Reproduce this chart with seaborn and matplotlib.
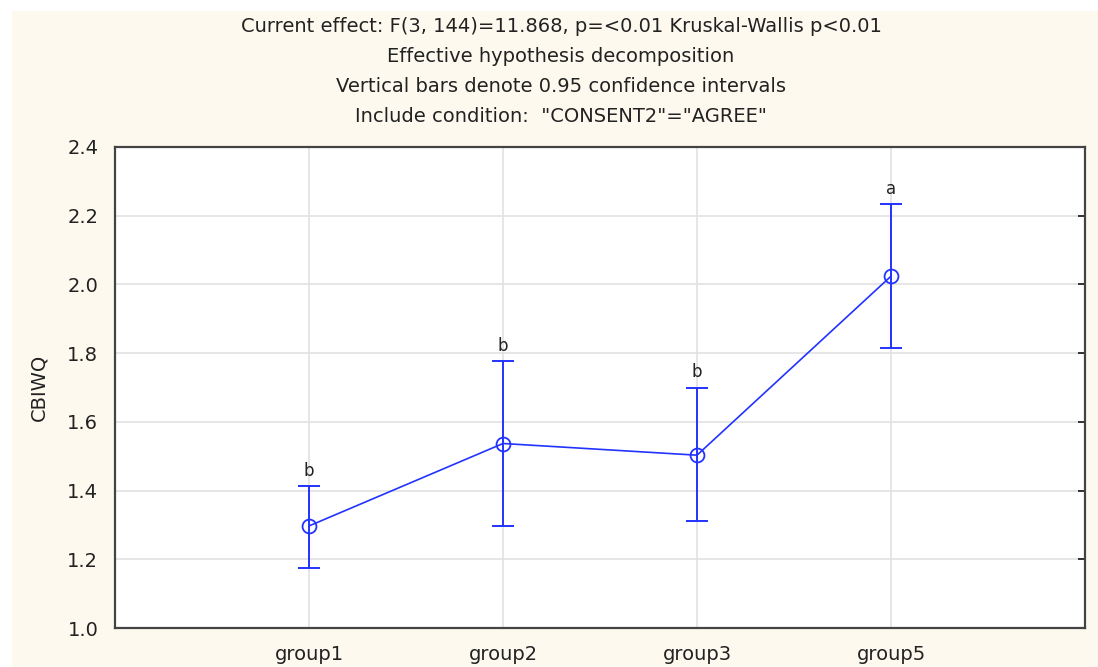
import matplotlib
matplotlib.use("Agg")
import matplotlib.pyplot as plt
import seaborn as sns
import numpy as np
from matplotlib.patches import Rectangle

groups = ["group1", "group2", "group3", "group5"]
means = [1.297, 1.537, 1.503, 2.024]
ci_low = [1.175, 1.298, 1.310, 1.815]
ci_high = [1.414, 1.777, 1.700, 2.234]
letters = ["b", "b", "b", "a"]
title_lines = [
    "Current effect: F(3, 144)=11.868, p=<0.01 Kruskal-Wallis p<0.01",
    "Effective hypothesis decomposition",
    "Vertical bars denote 0.95 confidence intervals",
    'Include condition:  "CONSENT2"="AGREE"',
]
yticks = [1.0, 1.2, 1.4, 1.6, 1.8, 2.0, 2.2, 2.4]

sns.set_theme(style="white")
plt.rcParams['font.family'] = ['DejaVu Sans']

fig = plt.figure(figsize=(10.98, 6.67), dpi=100, facecolor="white")
fig.patches.append(Rectangle((12/1098, 0), 1, (667-11)/667, transform=fig.transFigure,
                             facecolor="#FDF9EE", edgecolor="none", zorder=-10))
ax = fig.add_axes([115/1098, (667-628)/667, (1085-115)/1098, (628-147)/667])
ax.set_facecolor("white")

blue = "#2233FF"
pos = np.arange(len(groups))
m = np.array(means)
lo = np.array(ci_low)
hi = np.array(ci_high)

sns.lineplot(x=pos, y=m, ax=ax, color=blue, linewidth=1.2, marker="o",
             markersize=10, markerfacecolor="none", markeredgecolor=blue,
             markeredgewidth=1.3, zorder=5)
ax.errorbar(pos, m, yerr=[m - lo, hi - m], fmt="none", ecolor=blue,
            elinewidth=1.4, capsize=8, capthick=1.4, zorder=4)
for x, h, t in zip(pos, hi, letters):
    ax.text(x, h + 0.018, t, ha="center", va="bottom", fontsize=12, color="#222222")

ax.set_xlim(-1, 4)
ax.set_ylim(1.0, 2.4)
ax.set_xticks(pos)
ax.set_xticklabels(groups)
ax.set_yticks(yticks)
ax.set_yticklabels([f"{v:.1f}" for v in yticks])
ax.grid(True, color="#E2E2E2", linewidth=1.2)
ax.set_axisbelow(True)
for s in ax.spines.values():
    s.set_color("#444444")
    s.set_linewidth(1.6)
ax.tick_params(axis="x", direction="in", length=5, width=1.4, color="#333333",
               labelsize=14, pad=12, labelcolor="#222222")
ax.tick_params(axis="y", left=False, right=True, direction="in", length=5, width=1.4,
               color="#333333", labelsize=14, pad=12, labelcolor="#222222")
ax.set_xlabel("")
ax.set_ylabel("CBIWQ", fontsize=14, color="#222222", labelpad=14)

ys = [27, 57, 87, 117]
for t, y in zip(title_lines, ys):
    fig.text(561/1098, 1 - y/667, t, ha="center", va="center", fontsize=14, color="#222222")

fig.savefig("out.png", dpi=100, facecolor=fig.get_facecolor())
